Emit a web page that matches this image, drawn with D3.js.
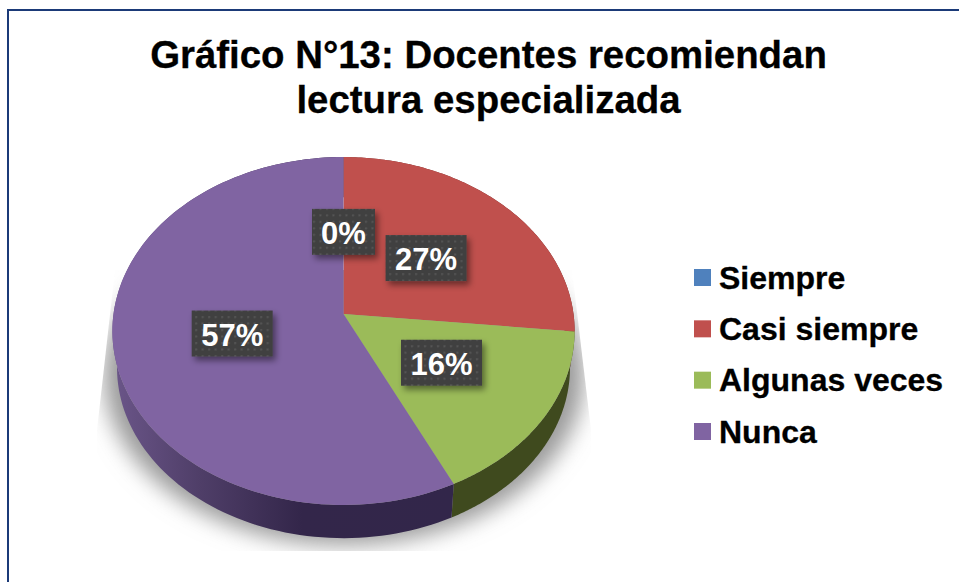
<!DOCTYPE html>
<html><head><meta charset="utf-8">
<script src="https://cdn.jsdelivr.net/npm/d3@7"></script>
<style>html,body{margin:0;padding:0;background:#fff}svg{display:block}text{font-family:"Liberation Sans",Arial,sans-serif;font-weight:bold}</style>
</head><body><div id="chart"></div>
<script>
const categories = ["Siempre","Casi siempre","Algunas veces","Nunca"];
const values = [0,26.6,16.2,57.2];
const colors = ["#4f81bd","#c0504d","#9bbb59","#8064a2"];
const wallColors = ["#2a4a70","#6e2c2a","#3f4a1e","url(#wallPurple)"];
const titleLines = ["Gráfico N°13: Docentes recomiendan","lectura especializada"];

const W=959,H=582;
const svg=d3.select("#chart").append("svg").attr("width",W).attr("height",H);
const defs=svg.append("defs");

svg.append("path").attr("d",d3.line()([[8,582],[8,10],[959,10]]))
  .attr("fill","none").attr("stroke","#1b3a78").attr("stroke-width",2);

svg.append("g").selectAll("text").data(titleLines).join("text")
  .attr("x",488.5).attr("y",(d,i)=>68+i*45).attr("text-anchor","middle")
  .attr("font-size",38.4).attr("fill","#000").attr("stroke","#000").attr("stroke-width",0.3).text(d=>d);

// perspective projection of the pie disc
const cx=343.5,cy=314,B=230,A=172.3,k=0.0977;
function proj(theta,r,dy=0,s=1){
  const u=Math.sin(theta)*r,v=Math.cos(theta)*r,w=1+k*v;
  return [cx+s*B*u/w, cy+dy+s*(-A*v/w)];
}
const pie=d3.pie().sort(null).value(d=>d).startAngle(0).endAngle(2*Math.PI);
const arcs=pie(values);
const line=d3.line();
const samples=(a0,a1)=>d3.range(0,121).map(i=>a0+(a1-a0)*i/120);

// ground shadow
const blur=defs.append("filter").attr("id","blur").attr("x","-30%").attr("y","-30%").attr("width","160%").attr("height","160%");
blur.append("feGaussianBlur").attr("stdDeviation",11);
defs.append("clipPath").attr("id","shadowClip").append("polygon")
  .attr("points","115,270 572,270 591,430 591,551 97,551 97,430");
svg.append("g").attr("clip-path","url(#shadowClip)").append("ellipse")
  .attr("cx",344).attr("cy",375).attr("rx",240).attr("ry",170)
  .attr("fill","#9a9a9a").attr("filter","url(#blur)");

// side wall
const wg=defs.append("linearGradient").attr("id","wallPurple").attr("gradientUnits","userSpaceOnUse")
  .attr("x1",115).attr("x2",455).attr("y1",0).attr("y2",0);
[[0,"#6a5588"],[0.25,"#4f3e68"],[0.55,"#33264a"],[1,"#32264a"]].forEach(s=>wg.append("stop").attr("offset",s[0]).attr("stop-color",s[1]));
const depth=37,bs=0.98;
svg.append("g").selectAll("path").data(arcs.filter(d=>d.value>0)).join("path")
  .attr("fill",d=>wallColors[d.index])
  .attr("d",d=>{
    const t=samples(d.startAngle,d.endAngle);
    return line(t.map(a=>proj(a,1)).concat(t.slice().reverse().map(a=>proj(a,1,depth,bs))))+"Z";
  });

// top of the pie
svg.append("g").selectAll("path").data(arcs.filter(d=>d.value>0)).join("path")
  .attr("fill",d=>colors[d.index])
  .attr("d",d=>line([[cx,cy]].concat(samples(d.startAngle,d.endAngle).map(a=>proj(a,1))))+"Z");

// data labels
const labelNudgeX=[0,0,1,2], labelNudgeY=[0,0,-2,0];
const pat=defs.append("pattern").attr("id","dots").attr("patternUnits","userSpaceOnUse").attr("width",6.5).attr("height",6.5);
pat.append("rect").attr("width",6.5).attr("height",6.5).attr("fill","#404040");
pat.append("rect").attr("x",2).attr("y",2).attr("width",2).attr("height",2).attr("fill","#555555");
const ds=defs.append("filter").attr("id","labelShadow").attr("x","-30%").attr("y","-30%").attr("width","170%").attr("height","170%");
ds.append("feDropShadow").attr("dx",3).attr("dy",4).attr("stdDeviation",3).attr("flood-color","#000").attr("flood-opacity",0.45);
const lab=svg.append("g").selectAll("g").data(arcs).join("g")
  .attr("transform",d=>{const p=proj((d.startAngle+d.endAngle)/2,0.5);return `translate(${p[0]+labelNudgeX[d.index]},${p[1]+labelNudgeY[d.index]})`;});
lab.append("rect")
  .attr("x",d=>d.value<10?-31.5:-40.5).attr("y",-23)
  .attr("width",d=>d.value<10?63:81).attr("height",46)
  .attr("fill","url(#dots)").attr("filter","url(#labelShadow)");
lab.append("text").attr("text-anchor","middle").attr("y",12)
  .attr("font-size",31).attr("fill","#fff").text(d=>Math.round(d.value)+"%");

// legend
const legendY=d3.scalePoint().domain(categories).range([277.5,431.5]);
const leg=svg.append("g").selectAll("g").data(categories).join("g")
  .attr("transform",d=>`translate(694,${legendY(d)})`);
leg.append("rect").attr("y",-8.5).attr("width",17).attr("height",17).attr("fill",(d,i)=>colors[i]);
leg.append("text").attr("x",25).attr("y",11).attr("font-size",32).attr("fill","#000").attr("stroke","#000").attr("stroke-width",0.3).text(d=>d);
</script></body></html>
